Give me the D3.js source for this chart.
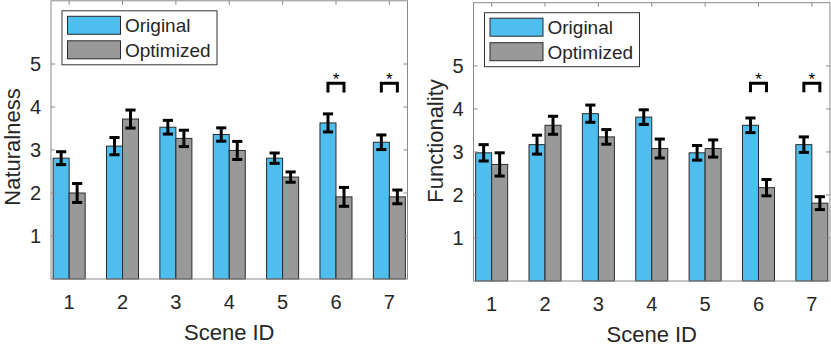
<!DOCTYPE html>
<html>
<head>
<meta charset="utf-8">
<script src="https://cdn.jsdelivr.net/npm/d3@7"></script>
<style>
  body { margin: 0; background: #fff; }
  text { font-family: "Liberation Sans", Arial, Helvetica, sans-serif; fill: #262626; }
</style>
</head>
<body>
<div id="chart"></div>
<script>
// data
const scenes = [1, 2, 3, 4, 5, 6, 7];
const yTicks = [1, 2, 3, 4, 5];
const seriesNames = ["Original", "Optimized"];

const natOriginal     = [2.81, 3.09, 3.53, 3.36, 2.81, 3.63, 3.18];
const natOriginalErr  = [0.15, 0.20, 0.16, 0.155, 0.12, 0.21, 0.17];
const natOptimized    = [2.00, 3.72, 3.27, 2.99, 2.37, 1.91, 1.91];
const natOptimizedErr = [0.22, 0.21, 0.19, 0.21, 0.12, 0.22, 0.16];

const funOriginal     = [2.98, 3.17, 3.89, 3.81, 2.98, 3.62, 3.17];
const funOriginalErr  = [0.19, 0.22, 0.20, 0.17, 0.17, 0.17, 0.18];
const funOptimized    = [2.71, 3.62, 3.35, 3.08, 3.08, 2.17, 1.81];
const funOptimizedErr = [0.27, 0.21, 0.17, 0.22, 0.20, 0.19, 0.15];

const significant = [6, 7];

const colors = ["#4DBEEE", "#999999"];
const W = 831, H = 350;

const svg = d3.select("#chart").append("svg")
    .attr("width", W)
    .attr("height", H)
    .style("background", "#fff");

function drawPanel(p) {
    const x = d3.scaleLinear().domain([0.66, 7.34]).range([p.left, p.right]);
    const y = d3.scaleLinear().domain([0, 6.47]).range([p.bottom, p.top]);
    const g = svg.append("g");
    const bw = 0.3;

    const rows = scenes.map((s, i) => ({
        s: s,
        vals: [p.orig[i], p.opt[i]],
        errs: [p.origErr[i], p.optErr[i]]
    }));

    // bars
    rows.forEach(r => {
        [0, 1].forEach(k => {
            const x0 = r.s - bw + k * bw;
            g.append("rect")
                .attr("x", x(x0))
                .attr("y", y(r.vals[k]))
                .attr("width", x(x0 + bw) - x(x0))
                .attr("height", y(0) - y(r.vals[k]))
                .attr("fill", colors[k])
                .attr("stroke", "#2b2b2b")
                .attr("stroke-width", 1);
        });
    });

    // error bars
    rows.forEach(r => {
        [0, 1].forEach(k => {
            const cx = r.s - bw / 2 + k * bw;
            const lo = r.vals[k] - r.errs[k], hi = r.vals[k] + r.errs[k];
            const cap = 0.095;
            g.append("line")
                .attr("x1", x(cx)).attr("x2", x(cx))
                .attr("y1", y(lo)).attr("y2", y(hi))
                .attr("stroke", "#000").attr("stroke-width", 3);
            [lo, hi].forEach(v => {
                g.append("line")
                    .attr("x1", x(cx - cap)).attr("x2", x(cx + cap))
                    .attr("y1", y(v)).attr("y2", y(v))
                    .attr("stroke", "#000").attr("stroke-width", 3);
            });
        });
    });

    // significance brackets
    significant.forEach(s => {
        const xa = x(s - bw / 2), xb = x(s + bw / 2);
        g.append("path")
            .attr("d", `M${xa},${y(p.bracketLow)}V${y(p.bracketHigh)}H${xb}V${y(p.bracketLow)}`)
            .attr("fill", "none")
            .attr("stroke", "#000")
            .attr("stroke-width", 3);
        g.append("text")
            .attr("x", x(s))
            .attr("y", y(p.bracketHigh) + 2)
            .attr("text-anchor", "middle")
            .style("font-size", "17px")
            .style("fill", "#000")
            .text("*");
    });

    // axes box
    const axisCol = "#8a8a8a";
    g.append("rect")
        .attr("x", p.left).attr("y", p.top)
        .attr("width", p.right - p.left).attr("height", p.bottom - p.top)
        .attr("fill", "none").attr("stroke", axisCol).attr("stroke-width", 1);

    // ticks pointing inward
    yTicks.forEach(t => {
        g.append("line").attr("x1", p.left).attr("x2", p.left + 4)
            .attr("y1", y(t)).attr("y2", y(t)).attr("stroke", axisCol);
        g.append("line").attr("x1", p.right).attr("x2", p.right - 4)
            .attr("y1", y(t)).attr("y2", y(t)).attr("stroke", axisCol);
        g.append("text")
            .attr("x", p.left - 10)
            .attr("y", y(t) + 7)
            .attr("text-anchor", "end")
            .style("font-size", "20px")
            .text(t);
    });
    scenes.forEach(s => {
        g.append("line").attr("x1", x(s)).attr("x2", x(s))
            .attr("y1", p.top).attr("y2", p.top + 4).attr("stroke", axisCol);
        g.append("text")
            .attr("x", x(s))
            .attr("y", p.bottom + 30)
            .attr("text-anchor", "middle")
            .style("font-size", "20px")
            .text(s);
    });

    // axis titles
    g.append("text")
        .attr("x", (p.left + p.right) / 2)
        .attr("y", p.bottom + 61)
        .attr("text-anchor", "middle")
        .style("font-size", "22px")
        .text("Scene ID");
    g.append("text")
        .attr("transform", `translate(${p.left - 31},${p.yTitleMid}) rotate(-90)`)
        .attr("text-anchor", "middle")
        .style("font-size", "22px")
        .text(p.yTitle);

    // legend
    const lx = p.left + 11, ly = p.top + 10;
    g.append("rect")
        .attr("x", lx).attr("y", ly).attr("width", 155).attr("height", 54)
        .attr("fill", "#fff").attr("stroke", "#333").attr("stroke-width", 1);
    seriesNames.forEach((n, k) => {
        g.append("rect")
            .attr("x", lx + 5.5).attr("y", ly + 5.5 + k * 24.5)
            .attr("width", 53).attr("height", 18)
            .attr("fill", colors[k]).attr("stroke", "#2b2b2b").attr("stroke-width", 1);
        g.append("text")
            .attr("x", lx + 63)
            .attr("y", ly + 21.5 + k * 24.5)
            .style("font-size", "19px")
            .text(n);
    });
}

drawPanel({
    left: 51, right: 407.5, top: 0.8, bottom: 279,
    orig: natOriginal, origErr: natOriginalErr,
    opt: natOptimized, optErr: natOptimizedErr,
    bracketLow: 4.34, bracketHigh: 4.55,
    yTitle: "Naturalness", yTitleMid: 147
});

drawPanel({
    left: 473.5, right: 830, top: 2.7, bottom: 281,
    orig: funOriginal, origErr: funOriginalErr,
    opt: funOptimized, optErr: funOptimizedErr,
    bracketLow: 4.39, bracketHigh: 4.6,
    yTitle: "Functionality", yTitleMid: 141
});
</script>
</body>
</html>
